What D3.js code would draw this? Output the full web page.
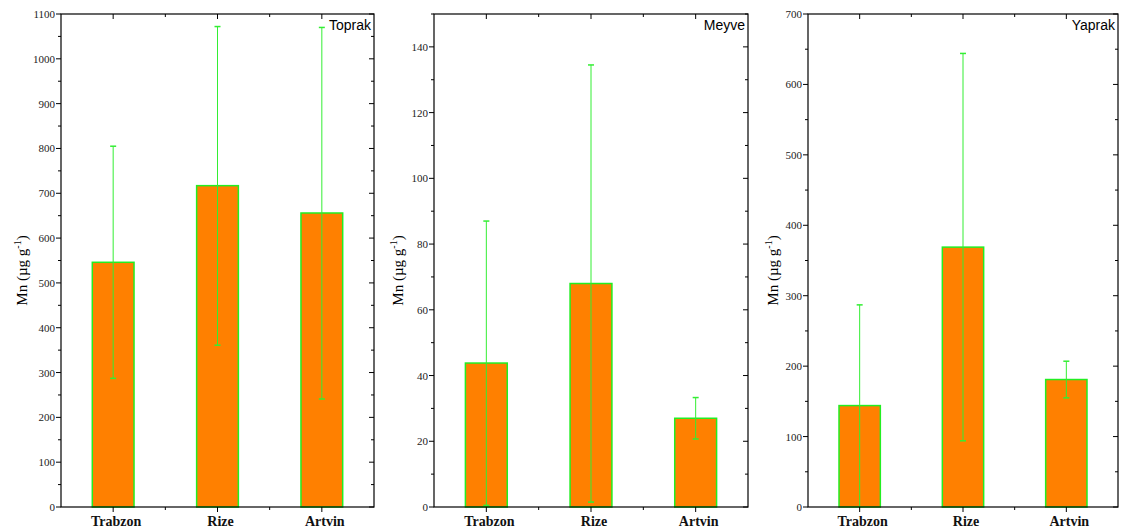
<!DOCTYPE html>
<html>
<head>
<meta charset="utf-8">
<script src="https://d3js.org/d3.v7.min.js"></script>
<style>
  body { margin: 0; background: #fff; }
  .tick-label { font-family: "Liberation Serif", serif; font-size: 11px; fill: #222; }
  .cat-label { font-family: "Liberation Serif", serif; font-size: 14px; font-weight: bold; fill: #111; }
  .panel-title { font-family: "Liberation Sans", Arial, sans-serif; font-size: 14px; fill: #000; }
  .y-title { font-family: "Liberation Serif", serif; font-size: 15px; fill: #000; }
</style>
</head>
<body>
<div id="chart"></div>
<script>
const categories = ["Trabzon", "Rize", "Artvin"];

// Toprak (soil)
const toprakMean = [546, 717, 656];
const toprakUpper = [805, 1072, 1070];
const toprakLower = [287, 361, 241];

// Meyve (fruit)
const meyveMean = [43.8, 68, 27];
const meyveUpper = [87, 134.5, 33.3];
const meyveLower = [0.5, 1.5, 20.7];

// Yaprak (leaf)
const yaprakMean = [144, 369, 181];
const yaprakUpper = [287, 644, 207];
const yaprakLower = [0, 94, 155];

const svg = d3.select("#chart").append("svg")
  .attr("width", 1124)
  .attr("height", 531);

const panels = [
  { title: "Toprak", mean: toprakMean, upper: toprakUpper, lower: toprakLower,
    left: 61, right: 374, yMax: 1100, major: 100, minor: 50, labelX: 22 },
  { title: "Meyve", mean: meyveMean, upper: meyveUpper, lower: meyveLower,
    left: 434, right: 748, yMax: 150, major: 20, minor: 10, labelX: 398 },
  { title: "Yaprak", mean: yaprakMean, upper: yaprakUpper, lower: yaprakLower,
    left: 808, right: 1118, yMax: 700, major: 100, minor: 50, labelX: 773 }
];

const plotTop = 14, plotBottom = 507;

function drawPanel(p) {
  const g = svg.append("g");
  const x = d3.scalePoint().domain(categories).range([p.left, p.right]).padding(0.5);
  const y = d3.scaleLinear().domain([0, p.yMax]).range([plotBottom, plotTop]);
  const barW = x.step() * 0.4;
  const rows = categories.map((c, i) => ({ cat: c, mean: p.mean[i], hi: p.upper[i], lo: p.lower[i] }));

  // bars
  g.selectAll("rect.bar").data(rows).join("rect")
    .attr("class", "bar")
    .attr("x", d => x(d.cat) - barW / 2)
    .attr("y", d => y(d.mean))
    .attr("width", barW)
    .attr("height", d => y(0) - y(d.mean))
    .attr("fill", "#FF8000")
    .attr("stroke", "#22EE22")
    .attr("stroke-width", 1.5);

  // error bars
  const eb = g.selectAll("g.err").data(rows).join("g").attr("class", "err");
  eb.append("line")
    .attr("x1", d => x(d.cat)).attr("x2", d => x(d.cat))
    .attr("y1", d => y(d.hi)).attr("y2", d => y(d.lo))
    .attr("stroke", "#33EE33").attr("stroke-width", 1);
  eb.append("line")
    .attr("x1", d => x(d.cat) - 3).attr("x2", d => x(d.cat) + 3)
    .attr("y1", d => y(d.hi)).attr("y2", d => y(d.hi))
    .attr("stroke", "#33EE33").attr("stroke-width", 1.5);
  eb.filter(d => d.lo > 0).append("line")
    .attr("x1", d => x(d.cat) - 3).attr("x2", d => x(d.cat) + 3)
    .attr("y1", d => y(d.lo)).attr("y2", d => y(d.lo))
    .attr("stroke", "#33EE33").attr("stroke-width", 1.5);

  // frame
  g.append("rect")
    .attr("x", p.left).attr("y", plotTop)
    .attr("width", p.right - p.left).attr("height", plotBottom - plotTop)
    .attr("fill", "none").attr("stroke", "#000").attr("stroke-width", 1.2);

  // y ticks
  const majors = d3.range(0, p.yMax + 0.001, p.major);
  const minors = d3.range(0, p.yMax + 0.001, p.minor).filter(v => Math.abs(v / p.major - Math.round(v / p.major)) > 1e-6);
  majors.forEach(v => {
    g.append("line").attr("x1", p.left - 5).attr("x2", p.left).attr("y1", y(v)).attr("y2", y(v)).attr("stroke", "#000");
    g.append("line").attr("x1", p.right - 5).attr("x2", p.right).attr("y1", y(v)).attr("y2", y(v)).attr("stroke", "#000");
    g.append("text").attr("class", "tick-label")
      .attr("x", p.left - 6).attr("y", y(v) + 4)
      .attr("text-anchor", "end").text(v);
  });
  minors.forEach(v => {
    g.append("line").attr("x1", p.left - 3).attr("x2", p.left).attr("y1", y(v)).attr("y2", y(v)).attr("stroke", "#000");
    g.append("line").attr("x1", p.right - 3).attr("x2", p.right).attr("y1", y(v)).attr("y2", y(v)).attr("stroke", "#000");
  });

  // x ticks
  categories.forEach((c, i) => {
    g.append("line").attr("x1", x(c)).attr("x2", x(c)).attr("y1", plotBottom).attr("y2", plotBottom + 5).attr("stroke", "#000");
    g.append("line").attr("x1", x(c)).attr("x2", x(c)).attr("y1", plotTop).attr("y2", plotTop + 5).attr("stroke", "#000");
    g.append("text").attr("class", "cat-label")
      .attr("x", x(c) + 3).attr("y", 526)
      .attr("text-anchor", "middle").text(c);
    if (i < categories.length - 1) {
      const mx = x(c) + x.step() / 2;
      g.append("line").attr("x1", mx).attr("x2", mx).attr("y1", plotBottom).attr("y2", plotBottom + 3).attr("stroke", "#000");
      g.append("line").attr("x1", mx).attr("x2", mx).attr("y1", plotTop).attr("y2", plotTop + 3).attr("stroke", "#000");
    }
  });

  // panel title
  g.append("text").attr("class", "panel-title")
    .attr("x", p.right - 3).attr("y", 30)
    .attr("text-anchor", "end").text(p.title);

  // y-axis title
  const yt = g.append("text").attr("class", "y-title")
    .attr("transform", `translate(${p.labelX + 5},${(plotTop + plotBottom) / 2 + 10}) rotate(-90)`)
    .attr("text-anchor", "middle");
  yt.append("tspan").text("Mn (µg g");
  yt.append("tspan").attr("dy", -6).attr("font-size", 10).text("-1");
  yt.append("tspan").attr("dy", 6).text(")");
}

panels.forEach(drawPanel);
</script>
</body>
</html>
